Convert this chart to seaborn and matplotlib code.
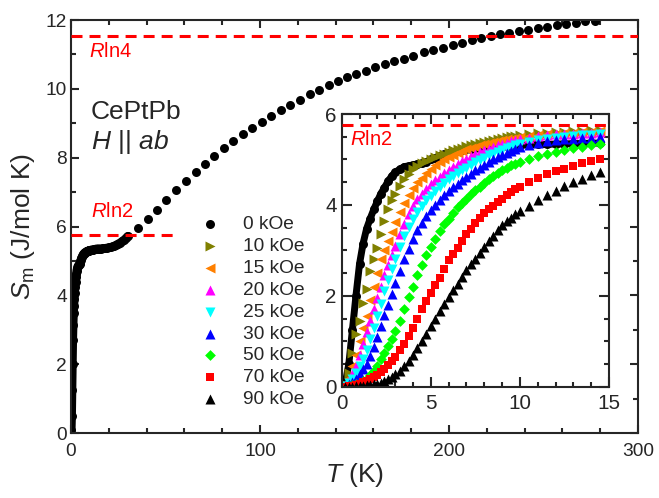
import numpy as np
import matplotlib
matplotlib.use('Agg')
import matplotlib.pyplot as plt
from matplotlib.ticker import MultipleLocator
import seaborn as sns

sns.set_style('ticks')
plt.rcParams['font.family'] = ['Liberation Sans', 'DejaVu Sans']
plt.rcParams['mathtext.fontset'] = 'custom'
plt.rcParams['mathtext.rm'] = 'Liberation Sans'
plt.rcParams['mathtext.it'] = 'Liberation Sans:italic'
plt.rcParams['mathtext.bf'] = 'Liberation Sans:bold'

# --- data ---------------------------------------------------------------
R = 8.314
RLN2 = R * np.log(2)
RLN4 = R * np.log(4)

# inset temperature grid (K)
T_IN = [0.2, 0.4, 0.6, 0.8, 1.0, 1.2, 1.4, 1.6, 1.8, 2.0, 2.2, 2.4, 2.6, 2.8, 3.0,
        3.25, 3.5, 3.75, 4.0, 4.25, 4.5, 4.75, 5.0, 5.25, 5.5, 5.75, 6.0, 6.25, 6.5, 6.75,
        7.0, 7.25, 7.5, 7.75, 8.0, 8.25, 8.5, 8.75, 9.0, 9.25, 9.5, 9.75, 10.0,
        10.5, 11.0, 11.5, 12.0, 12.5, 13.0, 13.5, 14.0, 14.5]

S_0 = [0.08, 0.5, 1.25, 2.0, 2.7, 3.15, 3.48, 3.7, 3.9, 4.08, 4.25, 4.38, 4.52, 4.63, 4.72,
       4.78, 4.84, 4.86, 4.88, 4.9, 4.92, 4.95, 5.0, 5.04, 5.08, 5.11, 5.14, 5.17, 5.19, 5.21,
       5.23, 5.24, 5.25, 5.26, 5.27, 5.28, 5.28, 5.29, 5.29, 5.3, 5.3, 5.31, 5.31,
       5.32, 5.33, 5.33, 5.34, 5.34, 5.35, 5.35, 5.36, 5.36]
S_10 = [0.05, 0.3, 0.75, 1.15, 1.45, 1.85, 2.15, 2.55, 2.8, 3.05, 3.35, 3.65, 3.9, 4.1, 4.25,
        4.42, 4.56, 4.68, 4.78, 4.86, 4.92, 4.97, 5.02, 5.06, 5.1, 5.13, 5.17, 5.2, 5.23, 5.26,
        5.29, 5.32, 5.35, 5.37, 5.39, 5.41, 5.43, 5.45, 5.47, 5.49, 5.51, 5.52, 5.54,
        5.56, 5.58, 5.59, 5.6, 5.61, 5.62, 5.63, 5.64, 5.65]
S_15 = [0.05, 0.2, 0.45, 0.7, 1.0, 1.3, 1.55, 1.9, 2.2, 2.5, 2.8, 3.0, 3.2, 3.4, 3.62,
        3.85, 4.05, 4.22, 4.38, 4.5, 4.6, 4.7, 4.8, 4.87, 4.94, 5.0, 5.05, 5.1, 5.14, 5.18,
        5.22, 5.25, 5.28, 5.31, 5.34, 5.36, 5.38, 5.4, 5.42, 5.44, 5.46, 5.47, 5.49,
        5.51, 5.53, 5.55, 5.56, 5.58, 5.59, 5.6, 5.61, 5.62]
S_20 = [0.03, 0.12, 0.28, 0.45, 0.7, 0.95, 1.2, 1.45, 1.7, 1.95, 2.2, 2.45, 2.68, 2.9, 3.1,
        3.35, 3.58, 3.8, 3.98, 4.12, 4.25, 4.36, 4.46, 4.54, 4.62, 4.7, 4.77, 4.84, 4.9, 4.96,
        5.02, 5.07, 5.12, 5.16, 5.2, 5.24, 5.28, 5.31, 5.34, 5.37, 5.4, 5.42, 5.45,
        5.48, 5.51, 5.53, 5.55, 5.56, 5.57, 5.58, 5.59, 5.6]
S_25 = [0.02, 0.08, 0.18, 0.3, 0.45, 0.6, 0.8, 1.05, 1.3, 1.55, 1.82, 2.1, 2.35, 2.6, 2.82,
        3.08, 3.32, 3.52, 3.7, 3.85, 3.98, 4.1, 4.2, 4.3, 4.4, 4.48, 4.56, 4.63, 4.7, 4.76,
        4.82, 4.88, 4.94, 4.99, 5.04, 5.09, 5.13, 5.17, 5.21, 5.25, 5.28, 5.31, 5.34,
        5.39, 5.43, 5.46, 5.48, 5.5, 5.52, 5.53, 5.54, 5.55]
S_30 = [0.01, 0.05, 0.1, 0.18, 0.27, 0.38, 0.5, 0.68, 0.88, 1.1, 1.33, 1.57, 1.8, 2.05, 2.28,
        2.55, 2.8, 3.03, 3.25, 3.44, 3.6, 3.75, 3.88, 4.0, 4.11, 4.21, 4.3, 4.39, 4.47, 4.55,
        4.62, 4.69, 4.76, 4.82, 4.88, 4.94, 5.0, 5.05, 5.1, 5.15, 5.19, 5.23, 5.27,
        5.32, 5.37, 5.4, 5.42, 5.44, 5.46, 5.47, 5.48, 5.5]
S_50 = [0.0, 0.01, 0.03, 0.06, 0.09, 0.13, 0.18, 0.26, 0.35, 0.46, 0.6, 0.75, 0.9, 1.05, 1.22,
        1.45, 1.7, 1.97, 2.2, 2.45, 2.68, 2.9, 3.08, 3.25, 3.42, 3.57, 3.7, 3.83, 3.95, 4.05,
        4.14, 4.23, 4.32, 4.4, 4.48, 4.56, 4.63, 4.7, 4.76, 4.82, 4.87, 4.91, 4.95,
        5.01, 5.07, 5.12, 5.17, 5.21, 5.25, 5.28, 5.32, 5.35]
S_70 = [0.0, 0.01, 0.02, 0.04, 0.07, 0.1, 0.13, 0.17, 0.21, 0.26, 0.32, 0.39, 0.47, 0.56, 0.66,
        0.8, 0.95, 1.12, 1.3, 1.5, 1.7, 1.89, 2.06, 2.23, 2.4, 2.6, 2.78, 2.93, 3.06, 3.2,
        3.35, 3.47, 3.6, 3.72, 3.82, 3.9, 3.98, 4.06, 4.14, 4.21, 4.28, 4.34, 4.4,
        4.5, 4.59, 4.67, 4.74, 4.8, 4.86, 4.92, 4.97, 5.02]
S_90 = [0.0, 0.0, 0.0, 0.01, 0.01, 0.02, 0.03, 0.04, 0.05, 0.07, 0.09, 0.12, 0.16, 0.21, 0.27,
        0.35, 0.46, 0.57, 0.7, 0.85, 1.0, 1.17, 1.33, 1.5, 1.66, 1.82, 1.97, 2.12, 2.27, 2.42,
        2.56, 2.69, 2.82, 2.95, 3.07, 3.2, 3.32, 3.44, 3.55, 3.64, 3.72, 3.8, 3.86,
        3.98, 4.1, 4.21, 4.31, 4.41, 4.5, 4.58, 4.66, 4.73]

# zero field, 15-30 K (dense part of the main panel)
T_0_EXT = [15, 16, 17, 18, 19, 20, 21, 22, 23, 24, 25, 26, 27, 28, 29, 30]
S_0_EXT = [5.36, 5.36, 5.37, 5.37, 5.38, 5.39, 5.4, 5.42, 5.44, 5.47, 5.5, 5.53, 5.57, 5.61,
           5.66, 5.72]

# zero field, high temperature
T_0_HI = [35.4, 40.8, 45.6, 50.5, 55.8, 60.7, 66, 70.8, 75.7, 80.8, 85.7, 91, 96, 101, 106,
          111.3, 116, 121.3, 126.3, 131, 136.4, 141.2, 146, 151, 156, 161, 166, 171, 176, 181,
          186.8, 191.7, 197, 202, 206.9, 212, 216.9, 222, 227, 232, 237, 242, 247, 252, 257,
          262, 267, 272, 277]
S_0_HI = [5.96, 6.22, 6.48, 6.77, 7.06, 7.33, 7.59, 7.83, 8.05, 8.27, 8.48, 8.68, 8.87, 9.05,
          9.22, 9.38, 9.54, 9.69, 9.84, 9.98, 10.1, 10.23, 10.33, 10.43, 10.53, 10.62, 10.71,
          10.8, 10.88, 10.96, 11.07, 11.13, 11.2, 11.28, 11.34, 11.41, 11.47, 11.53, 11.58,
          11.63, 11.68, 11.72, 11.77, 11.81, 11.86, 11.89, 11.92, 11.96, 11.98]

FIELDS = ['0 kOe', '10 kOe', '15 kOe', '20 kOe', '25 kOe', '30 kOe', '50 kOe', '70 kOe', '90 kOe']
SERIES = [S_0, S_10, S_15, S_20, S_25, S_30, S_50, S_70, S_90]
MARKERS = ['o', '>', '<', '^', 'v', '^', 'D', 's', '^']
COLORS = ['black', '#808000', '#FF8000', '#FF00FF', '#00FFFF', '#0000FF', '#00FF00', '#FF0000', 'black']
SIZES = [42, 52, 52, 52, 52, 52, 30, 40, 52]

# --- figure -------------------------------------------------------------
fig = plt.figure(figsize=(6.59, 4.98), dpi=100)
ax = fig.add_axes([71 / 659, 65 / 498, 567 / 659, 413 / 498])
axin = fig.add_axes([341.7 / 659, 111.3 / 498, 267.3 / 659, 272.7 / 498])

# main panel: zero field entropy
sns.lineplot(x=T_IN + T_0_EXT, y=S_0 + S_0_EXT, ax=ax, color='black', lw=6.0,
             sort=False, estimator=None, legend=False, solid_capstyle='round')
sns.scatterplot(x=T_IN + T_0_EXT, y=S_0 + S_0_EXT, ax=ax, color='black', s=42,
                marker='o', linewidth=0, legend=False)
sns.scatterplot(x=T_0_HI, y=S_0_HI, ax=ax, color='black', s=42, marker='o',
                linewidth=0, legend=False)

ax.axhline(RLN4, color='red', lw=2.2, ls=(0, (3.6, 2.3)), zorder=4)
ax.hlines(RLN2, 0, 57, color='red', lw=2.2, ls=(0, (3.6, 2.3)), zorder=4)
ax.text(9.7, 10.92, '$R$ln4', color='red', fontsize=14.5)
ax.text(10.4, 6.28, '$R$ln2', color='red', fontsize=14.5)
ax.text(10.4, 9.11, 'CePtPb', fontsize=19)
ax.text(10.4, 8.24, '$H$ || $ab$', fontsize=19)

ax.set_xlim(0, 300)
ax.set_ylim(0, 12)
ax.xaxis.set_major_locator(MultipleLocator(100))
ax.xaxis.set_minor_locator(MultipleLocator(20))
ax.yaxis.set_major_locator(MultipleLocator(2))
ax.yaxis.set_minor_locator(MultipleLocator(1))
ax.tick_params(which='both', direction='in', top=True, right=True, width=1.5, labelsize=13.8)
ax.tick_params(which='major', length=6)
ax.tick_params(which='minor', length=3.5)
ax.tick_params(axis='x', pad=7)
ax.tick_params(axis='y', pad=3)
ax.set_xlabel('$T$ (K)', fontsize=19, labelpad=1)
ax.set_ylabel(r'$S_\mathrm{m}$ (J/mol K)', fontsize=19, labelpad=6)
for sp in ax.spines.values():
    sp.set_linewidth(1.5)

# inset: field dependence (zero field sits underneath the others)
sns.lineplot(x=T_IN, y=S_0, ax=axin, color='black', lw=5.0, sort=False,
             estimator=None, legend=False, solid_capstyle='round', zorder=0.5)
for name, s_vals, mk, col, sz in zip(FIELDS, SERIES, MARKERS, COLORS, SIZES):
    sns.scatterplot(x=T_IN, y=s_vals, ax=axin, marker=mk, color=col, s=sz,
                    linewidth=0, label=name, legend=False)

axin.axhline(RLN2, color='red', lw=2.2, ls=(0, (3.6, 2.3)), zorder=4)
axin.text(0.47, 5.32, '$R$ln2', color='red', fontsize=14.5)
axin.set_xlim(0, 15)
axin.set_ylim(0, 6)
axin.xaxis.set_major_locator(MultipleLocator(5))
axin.xaxis.set_minor_locator(MultipleLocator(1))
axin.yaxis.set_major_locator(MultipleLocator(2))
axin.yaxis.set_minor_locator(MultipleLocator(0.5))
axin.tick_params(which='both', direction='in', top=True, right=True, width=1.5, labelsize=14.9)
axin.tick_params(which='major', length=7)
axin.tick_params(which='minor', length=3.5)
axin.tick_params(axis='x', pad=5)
axin.tick_params(axis='y', pad=3.5)
axin.set_xlabel('')
axin.set_ylabel('')
for sp in axin.spines.values():
    sp.set_linewidth(1.5)

handles, labels = axin.get_legend_handles_labels()
if axin.get_legend() is not None:
    axin.get_legend().remove()
ax.legend(handles, labels, loc='upper left', bbox_to_anchor=(200.4 / 659, 1 - 216 / 498),
          bbox_transform=fig.transFigure, frameon=False, fontsize=13.8, handlelength=1.0,
          handletextpad=1.2, labelspacing=0.23, borderpad=0, borderaxespad=0,
          scatterpoints=1)

fig.savefig('out.png', dpi=100)
